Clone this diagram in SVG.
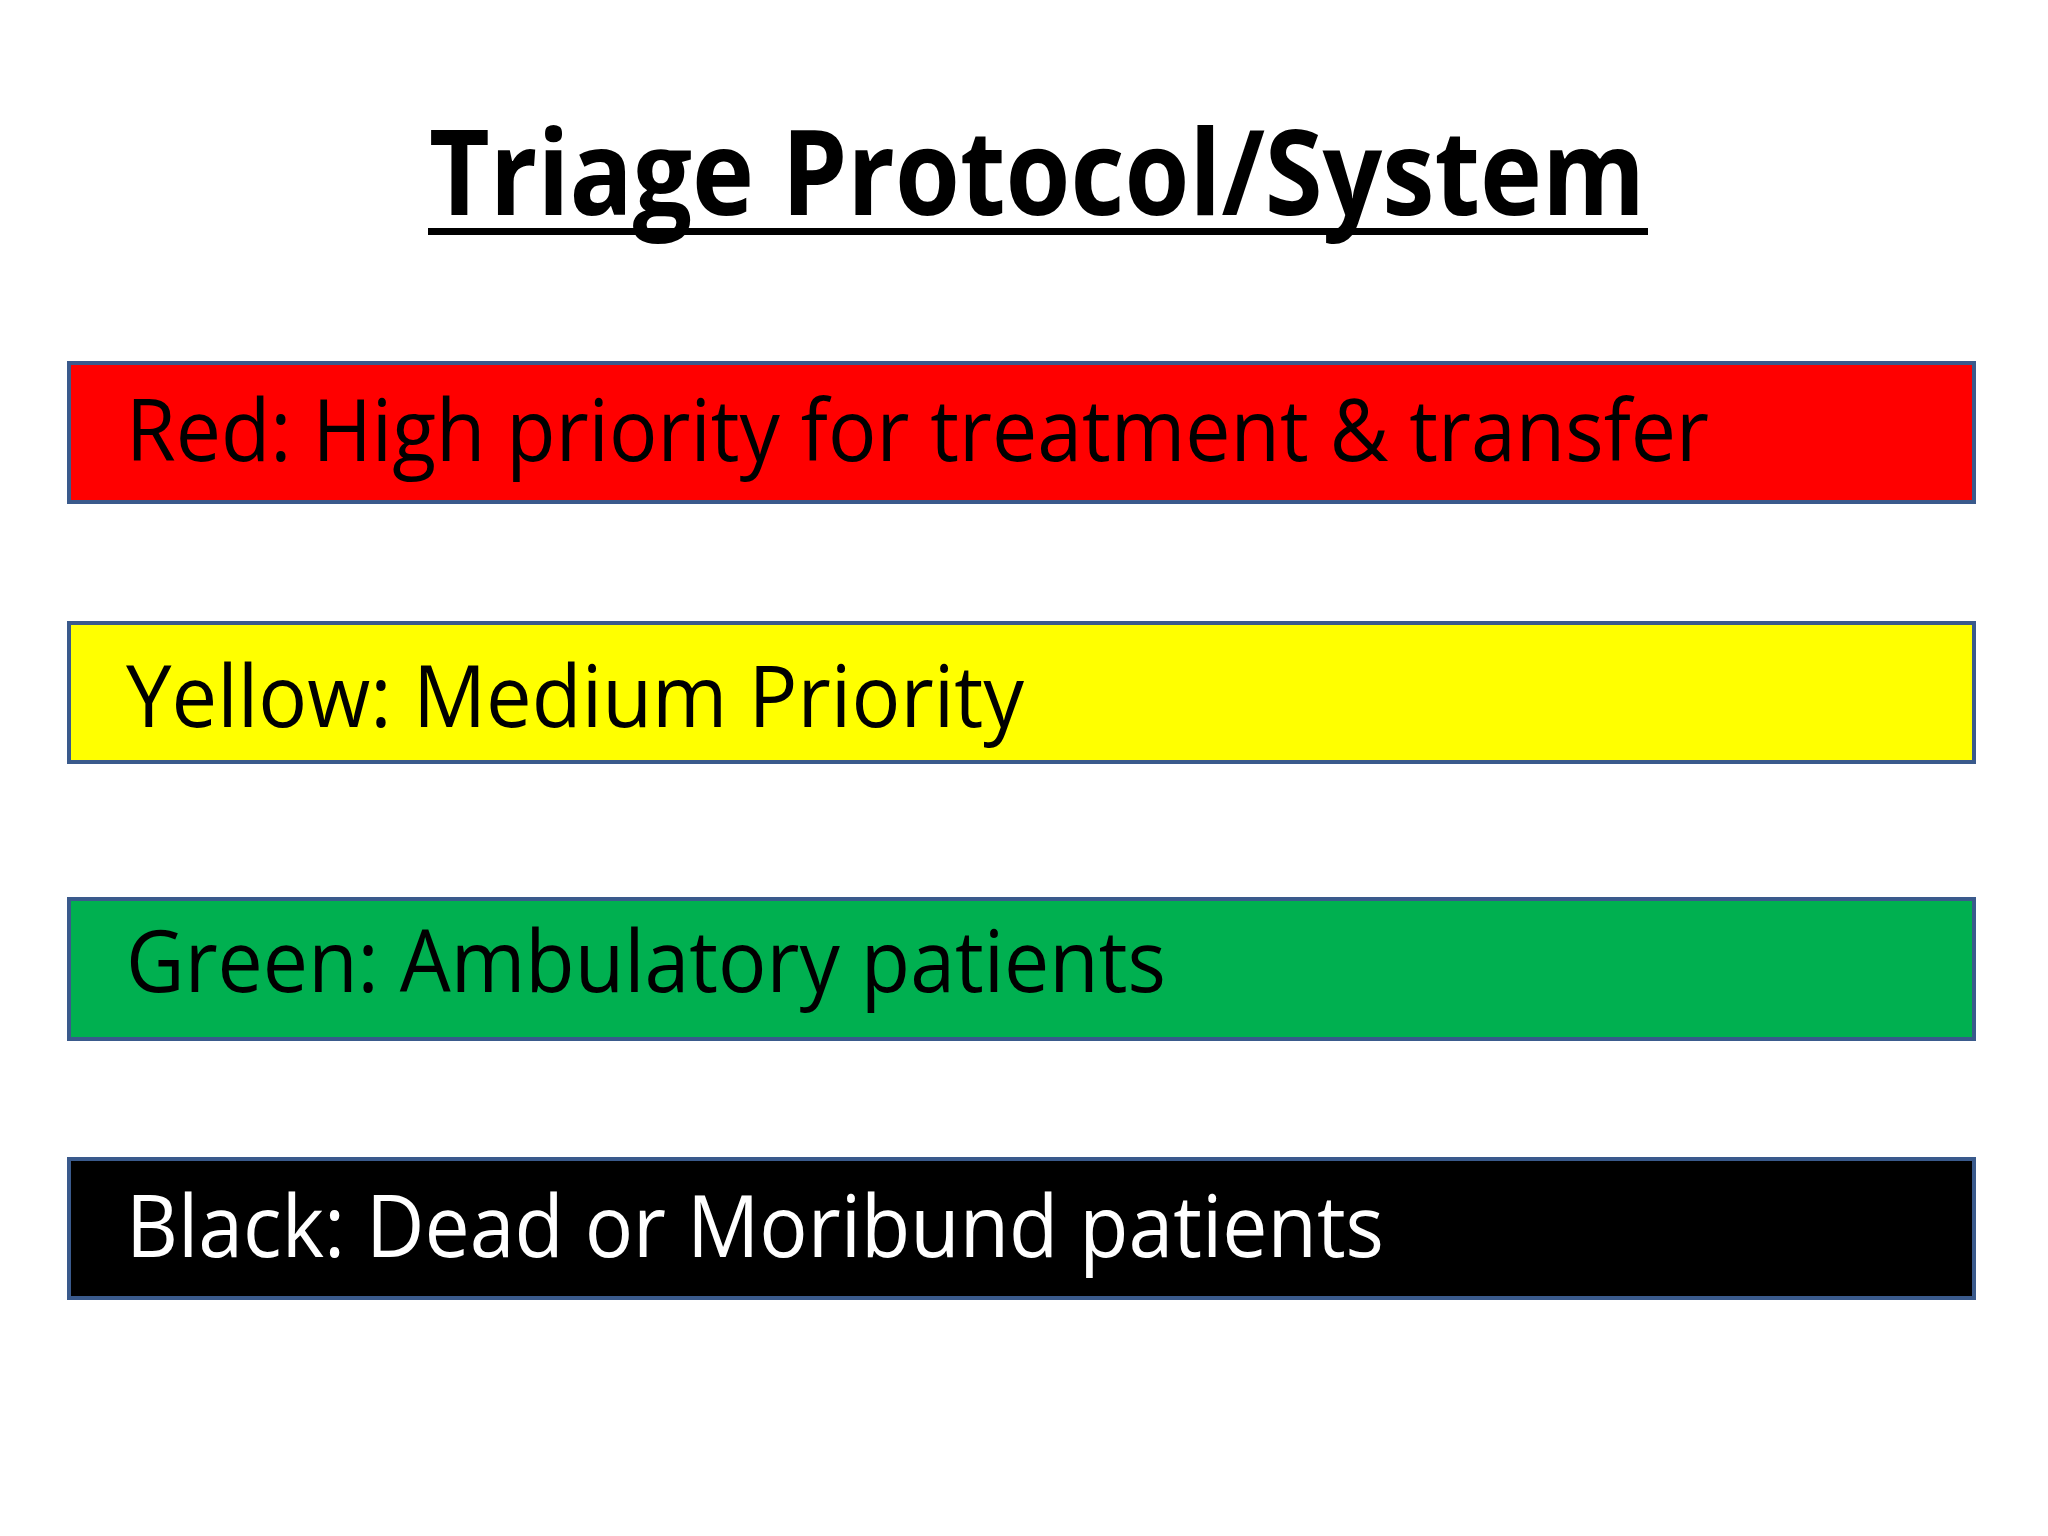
<svg xmlns="http://www.w3.org/2000/svg" width="2048" height="1536" viewBox="0 0 2048 1536">
<style>
.box{stroke:#3a5a8c;stroke-width:4}
.t{font-family:"Open Sans","Noto Sans",sans-serif;font-size:86px}
</style>
<rect width="2048" height="1536" fill="#fff"/>
<g id="title">
<text x="1037" y="215" text-anchor="middle" font-family="'Open Sans','Noto Sans',sans-serif" font-weight="bold" font-size="118" textLength="1216" lengthAdjust="spacingAndGlyphs">Triage Protocol/System</text>
<rect x="428" y="228" width="1220" height="7" fill="#000"/>
</g>
<g id="red"><rect class="box" x="69" y="363" width="1905" height="139" fill="#ff0000"/>
<text class="t" x="126" y="461" fill="#000" textLength="1583" lengthAdjust="spacingAndGlyphs">Red: High priority for treatment &amp; transfer</text></g>
<g id="yellow"><rect class="box" x="69" y="623" width="1905" height="139" fill="#ffff00"/>
<text class="t" x="126" y="727" fill="#000" textLength="898" lengthAdjust="spacingAndGlyphs">Yellow: Medium Priority</text></g>
<g id="green"><rect class="box" x="69" y="899" width="1905" height="140" fill="#00b050"/>
<text class="t" x="126" y="992" fill="#000" textLength="1040" lengthAdjust="spacingAndGlyphs">Green: Ambulatory patients</text></g>
<g id="black"><rect class="box" x="69" y="1159" width="1905" height="139" fill="#000"/>
<text class="t" x="126" y="1257" fill="#fff" textLength="1258" lengthAdjust="spacingAndGlyphs">Black: Dead or Moribund patients</text></g>
<g id="connectors"/>
</svg>
